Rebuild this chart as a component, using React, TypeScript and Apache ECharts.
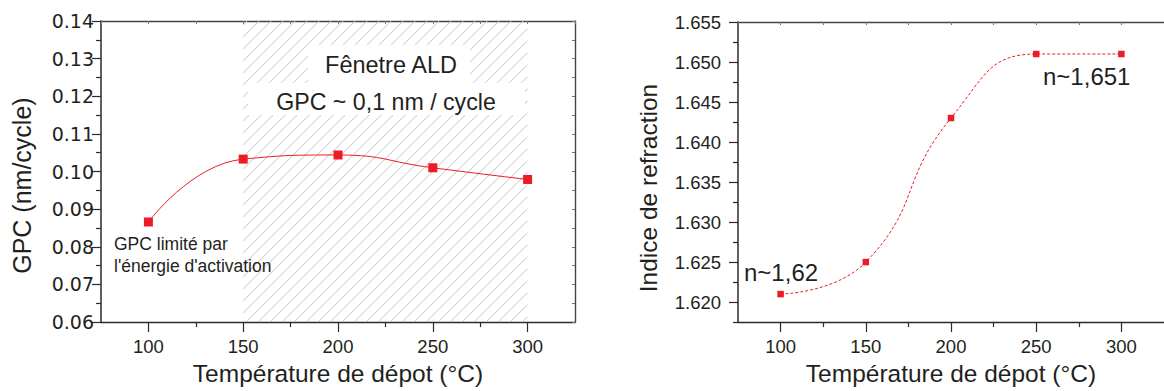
import React, { useEffect, useRef } from "react";
import * as echarts from "echarts";

// ---- data ----
const temperatures = [100, 150, 200, 250, 300];
const gpc = [0.0866, 0.1033, 0.1044, 0.101, 0.0979];
const refractiveIndex = [1.621, 1.625, 1.643, 1.651, 1.651];
const aldWindow = [150, 300];

// ---- axes / ticks ----
const xRange = [75, 325];
const xMajorTicks = [100, 150, 200, 250, 300];
const xMinorTicks = [125, 175, 225, 275];
const gpcRange = [0.06, 0.14];
const gpcMajorTicks = [0.06, 0.07, 0.08, 0.09, 0.1, 0.11, 0.12, 0.13, 0.14];
const gpcMinorTicks = [0.065, 0.075, 0.085, 0.095, 0.105, 0.115, 0.125, 0.135];
const nRange = [1.6175, 1.655];
const nMajorTicks = [1.62, 1.625, 1.63, 1.635, 1.64, 1.645, 1.65, 1.655];
const nMinorTicks = [1.6175, 1.6225, 1.6275, 1.6325, 1.6375, 1.6425, 1.6475, 1.6525];

const RED = "#ed1c24";
const AXIS = "#2b2b2b";
const TEXT = "#231f20";
const FONT = "'Liberation Sans', Arial, sans-serif";

function mainX(grid: number, title: string) {
  return {
    type: "value",
    gridIndex: grid,
    position: "bottom",
    min: xRange[0],
    max: xRange[1],
    name: title,
    nameLocation: "middle",
    nameGap: 37,
    nameTextStyle: { fontSize: 24.5, color: TEXT, fontFamily: FONT },
    axisLine: { show: true, onZero: false, lineStyle: { color: AXIS, width: 1.4 } },
    axisTick: { show: true, customValues: xMajorTicks, length: 10, lineStyle: { color: AXIS, width: 1.2 } },
    axisLabel: {
      show: true,
      customValues: xMajorTicks,
      margin: 15,
      fontSize: 18.5,
      color: TEXT,
      fontFamily: FONT,
    },
    splitLine: { show: false },
  };
}
function minorX(grid: number) {
  return {
    type: "value",
    gridIndex: grid,
    position: "bottom",
    min: xRange[0],
    max: xRange[1],
    axisLine: { show: false, onZero: false },
    axisTick: { show: true, customValues: xMinorTicks, length: 5, lineStyle: { color: AXIS, width: 1.2 } },
    axisLabel: { show: false },
    splitLine: { show: false },
  };
}
function topX(grid: number) {
  return {
    type: "value",
    gridIndex: grid,
    position: "top",
    min: xRange[0],
    max: xRange[1],
    interval: 25,
    axisLine: { show: true, onZero: false, lineStyle: { color: "#444", width: 1.4 } },
    axisTick: { show: true, inside: true, length: 3, lineStyle: { color: "#777", width: 1 } },
    axisLabel: { show: false },
    splitLine: { show: false },
  };
}

export default function App() {
  const ref = useRef<HTMLDivElement>(null);

  useEffect(() => {
    if (!ref.current) return;
    const chart = echarts.init(ref.current, null, { renderer: "svg" });

    const hatchSeries = {
      type: "custom",
      xAxisIndex: 0,
      yAxisIndex: 0,
      z: 1,
      silent: true,
      encode: { x: [0, 1], y: [2, 3] },
      data: [[aldWindow[0], aldWindow[1], gpcRange[0], gpcRange[1]]],
      renderItem: (params: any, api: any) => {
        const p0 = api.coord([api.value(0), api.value(3)]);
        const p1 = api.coord([api.value(1), api.value(2)]);
        const x0 = p0[0], y0 = p0[1], x1 = p1[0], y1 = p1[1];
        const step = 12;
        const children: any[] = [];
        for (let c = x0 + y0 + 4; c <= x1 + y1; c += step) {
          const xa = Math.max(x0, c - y1);
          const xb = Math.min(x1, c - y0);
          if (xb <= xa) continue;
          children.push({
            type: "line",
            shape: { x1: xa, y1: c - xa, x2: xb, y2: c - xb },
            style: { stroke: "#c4c4c4", lineWidth: 1 },
            silent: true,
          });
        }
        return { type: "group", children };
      },
    };

    const option: any = {
      animation: false,
      backgroundColor: "#ffffff",
      textStyle: { fontFamily: FONT },
      grid: [
        { left: 101, top: 21, width: 474, height: 303 },
        { left: 738, top: 22, width: 429, height: 302 },
      ],
      xAxis: [
        mainX(0, "Température de dépot (°C)"),
        minorX(0),
        topX(0),
        mainX(1, "Température de dépot (°C)"),
        minorX(1),
        topX(1),
      ],
      yAxis: [
        {
          type: "value",
          gridIndex: 0,
          position: "left",
          min: gpcRange[0],
          max: gpcRange[1],
          name: "GPC (nm/cycle)",
          nameLocation: "middle",
          nameGap: 67,
          nameTextStyle: { fontSize: 25, color: TEXT, fontFamily: FONT, padding: [0, 28, 0, 0] },
          axisLine: { show: true, onZero: false, lineStyle: { color: AXIS, width: 1.5 } },
          axisTick: { show: true, customValues: gpcMajorTicks, length: 9, lineStyle: { color: AXIS, width: 1.2 } },
          axisLabel: {
            show: true,
            customValues: gpcMajorTicks,
            margin: 7,
            fontSize: 19,
            color: TEXT,
            fontFamily: "'DejaVu Sans', sans-serif",
            formatter: (v: number) => v.toFixed(2),
          },
          splitLine: { show: false },
        },
        {
          type: "value",
          gridIndex: 0,
          position: "left",
          min: gpcRange[0],
          max: gpcRange[1],
          axisLine: { show: false, onZero: false },
          axisTick: { show: true, customValues: gpcMinorTicks, length: 5, lineStyle: { color: AXIS, width: 1.2 } },
          axisLabel: { show: false },
          splitLine: { show: false },
        },
        {
          type: "value",
          gridIndex: 0,
          position: "right",
          min: gpcRange[0],
          max: gpcRange[1],
          interval: 0.005,
          axisLine: { show: true, onZero: false, lineStyle: { color: "#444", width: 1.4 } },
          axisTick: { show: true, inside: true, length: 3, lineStyle: { color: "#777", width: 1 } },
          axisLabel: { show: false },
          splitLine: { show: false },
        },
        {
          type: "value",
          gridIndex: 1,
          position: "left",
          min: nRange[0],
          max: nRange[1],
          name: "Indice de refraction",
          nameLocation: "middle",
          nameGap: 77,
          nameTextStyle: { fontSize: 24.5, color: TEXT, fontFamily: FONT, padding: [0, 32, 0, 0] },
          axisLine: { show: true, onZero: false, lineStyle: { color: AXIS, width: 1.5 } },
          axisTick: { show: true, customValues: nMajorTicks, length: 9, lineStyle: { color: AXIS, width: 1.2 } },
          axisLabel: {
            show: true,
            customValues: nMajorTicks,
            margin: 17,
            fontSize: 18.5,
            color: TEXT,
            fontFamily: FONT,
            formatter: (v: number) => v.toFixed(3),
          },
          splitLine: { show: false },
        },
        {
          type: "value",
          gridIndex: 1,
          position: "left",
          min: nRange[0],
          max: nRange[1],
          axisLine: { show: false, onZero: false },
          axisTick: { show: true, customValues: nMinorTicks, length: 5, lineStyle: { color: AXIS, width: 1.2 } },
          axisLabel: { show: false },
          splitLine: { show: false },
        },
      ],
      series: [
        hatchSeries,
        {
          type: "line",
          xAxisIndex: 0,
          yAxisIndex: 0,
          z: 3,
          data: temperatures.map((t, i) => [t, gpc[i]]),
          smooth: 0.5,
          symbol: "rect",
          symbolSize: 9,
          itemStyle: { color: RED },
          lineStyle: { color: RED, width: 1 },
        },
        {
          type: "line",
          xAxisIndex: 3,
          yAxisIndex: 3,
          z: 3,
          data: temperatures.map((t, i) => [t, refractiveIndex[i]]),
          smooth: 0.5,
          symbol: "rect",
          symbolSize: 6.5,
          itemStyle: { color: RED },
          lineStyle: { color: RED, width: 1, type: [3, 2] },
        },
      ],
      graphic: [
        { type: "rect", z: 5, shape: { x: 308, y: 45, width: 162, height: 38 }, style: { fill: "#ffffff" }, silent: true },
        { type: "rect", z: 5, shape: { x: 248, y: 83, width: 277, height: 32 }, style: { fill: "#ffffff" }, silent: true },
        {
          type: "text", z: 6, x: 391, y: 65,
          style: { text: "Fênetre ALD", fontSize: 23.5, fill: TEXT, fontFamily: FONT, align: "center", verticalAlign: "middle" },
        },
        {
          type: "text", z: 6, x: 386, y: 102,
          style: { text: "GPC ~ 0,1 nm / cycle", fontSize: 23.2, fill: TEXT, fontFamily: FONT, align: "center", verticalAlign: "middle" },
        },
        {
          type: "text", z: 6, x: 114, y: 244,
          style: { text: "GPC limité par", fontSize: 17.5, fill: TEXT, fontFamily: FONT, align: "left", verticalAlign: "middle" },
        },
        {
          type: "text", z: 6, x: 114, y: 266,
          style: { text: "l'énergie d'activation", fontSize: 17.5, fill: TEXT, fontFamily: FONT, align: "left", verticalAlign: "middle" },
        },
        {
          type: "text", z: 6, x: 744, y: 272,
          style: { text: "n~1,62", fontSize: 24, fill: TEXT, fontFamily: FONT, align: "left", verticalAlign: "middle" },
        },
        {
          type: "text", z: 6, x: 1043, y: 76,
          style: { text: "n~1,651", fontSize: 24, fill: TEXT, fontFamily: FONT, align: "left", verticalAlign: "middle" },
        },
      ],
    };

    chart.setOption(option);
    return () => chart.dispose();
  }, []);

  return (
    <div
      ref={ref}
      style={{ position: "absolute", left: 0, top: 0, width: 1164, height: 391, background: "#fff" }}
    />
  );
}
